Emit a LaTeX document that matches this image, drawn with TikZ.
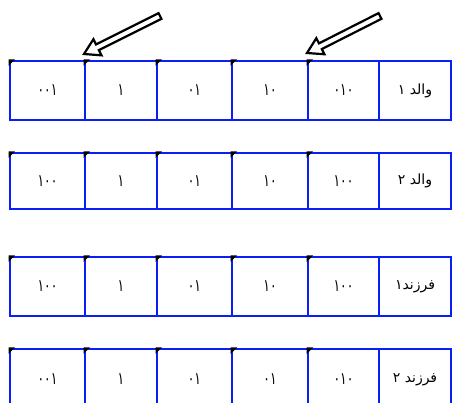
\documentclass[tikz,border=0pt]{standalone}
\usepackage{fontspec}
\usetikzlibrary{calc}
\TeXXeTstate=1
\newfontfamily\fa[Script=Arabic]{DejaVu Sans}
\newfontfamily\fadig[Script=Arabic, FakeStretch=0.72]{DejaVu Sans}
\definecolor{cellblue}{RGB}{10,30,250}
\tikzset{
  cellbox/.style={draw=cellblue, line width=1.8pt, inner sep=0pt, outer sep=0pt,
    font=\fadig\fontsize{17}{19}\selectfont},
  labelbox/.style={cellbox, font=\fa\fontsize{14}{16}\selectfont},
  cornermark/.style={fill=black},
  blockarrow/.style={draw=black, fill=white, line width=2.2pt, line join=miter}
}
\newcommand{\cmark}[1]{\fill[cornermark] ($(#1.north west)+(-1.5,-1.5)$) -- ++(6.5,0) -- ++(-6.5,6.5) -- cycle;}
\newcommand{\barrow}[2]{%
  \coordinate (hh) at ($(#2)!15pt!(#1)$);
  \draw[blockarrow] ($(#1)!3.2pt!90:(#2)$) -- ($(hh)!3.2pt!-90:(#1)$) -- ($(hh)!9pt!-90:(#1)$)
    -- (#2) -- ($(hh)!9pt!90:(#1)$) -- ($(hh)!3.2pt!90:(#1)$) -- ($(#1)!3.2pt!-90:(#2)$) -- cycle;}
\begin{document}
\begin{tikzpicture}[x=1pt, y=-1pt]
\useasboundingbox (0,0) rectangle (453,403);
\clip (0,0) rectangle (453,403);
% row 1
\node[cellbox, minimum width=75pt, minimum height=59pt] (r1c1) at (47.5,90.5) {۰۰۱};
\node[cellbox, minimum width=72pt, minimum height=59pt] (r1c2) at (121,90.5) {۱};
\node[cellbox, minimum width=75pt, minimum height=59pt] (r1c3) at (194.5,90.5) {۰۱};
\node[cellbox, minimum width=76pt, minimum height=59pt] (r1c4) at (270,90.5) {۱۰};
\node[cellbox, minimum width=71pt, minimum height=59pt] (r1c5) at (343.5,90.5) {۰۱۰};
\node[labelbox, minimum width=72pt, minimum height=59pt] (r1c6) at (415,90.5) {\beginR والد ۱\endR};
% row 2
\node[cellbox, minimum width=75pt, minimum height=56pt] (r2c1) at (47.5,181) {۱۰۰};
\node[cellbox, minimum width=72pt, minimum height=56pt] (r2c2) at (121,181) {۱};
\node[cellbox, minimum width=75pt, minimum height=56pt] (r2c3) at (194.5,181) {۰۱};
\node[cellbox, minimum width=76pt, minimum height=56pt] (r2c4) at (270,181) {۱۰};
\node[cellbox, minimum width=71pt, minimum height=56pt] (r2c5) at (343.5,181) {۱۰۰};
\node[labelbox, minimum width=72pt, minimum height=56pt] (r2c6) at (415,181) {\beginR والد ۲\endR};
% row 3
\node[cellbox, minimum width=75pt, minimum height=59pt] (r3c1) at (47.5,286.5) {۱۰۰};
\node[cellbox, minimum width=72pt, minimum height=59pt] (r3c2) at (121,286.5) {۱};
\node[cellbox, minimum width=75pt, minimum height=59pt] (r3c3) at (194.5,286.5) {۰۱};
\node[cellbox, minimum width=76pt, minimum height=59pt] (r3c4) at (270,286.5) {۱۰};
\node[cellbox, minimum width=71pt, minimum height=59pt] (r3c5) at (343.5,286.5) {۱۰۰};
\node[labelbox, minimum width=72pt, minimum height=59pt] (r3c6) at (415,286.5) {\beginR فرزند۱\endR};
% row 4
\node[cellbox, minimum width=75pt, minimum height=61pt] (r4c1) at (47.5,379.5) {۰۰۱};
\node[cellbox, minimum width=72pt, minimum height=61pt] (r4c2) at (121,379.5) {۱};
\node[cellbox, minimum width=75pt, minimum height=61pt] (r4c3) at (194.5,379.5) {۰۱};
\node[cellbox, minimum width=76pt, minimum height=61pt] (r4c4) at (270,379.5) {۰۱};
\node[cellbox, minimum width=71pt, minimum height=61pt] (r4c5) at (343.5,379.5) {۰۱۰};
\node[labelbox, minimum width=72pt, minimum height=61pt] (r4c6) at (415,379.5) {\beginR فرزند ۲\endR};
% corner marks
\foreach \r in {1,2,3,4}{\foreach \c in {1,...,5}{\cmark{r\r c\c}}}
% arrows
\coordinate (s1) at (160,16);
\coordinate (t1) at ($(r1c2.north west)+(-1,-7)$);
\coordinate (s2) at (380,16);
\coordinate (t2) at ($(r1c5.north west)+(-1,-8)$);
\barrow{s1}{t1}
\barrow{s2}{t2}
\end{tikzpicture}
\end{document}
